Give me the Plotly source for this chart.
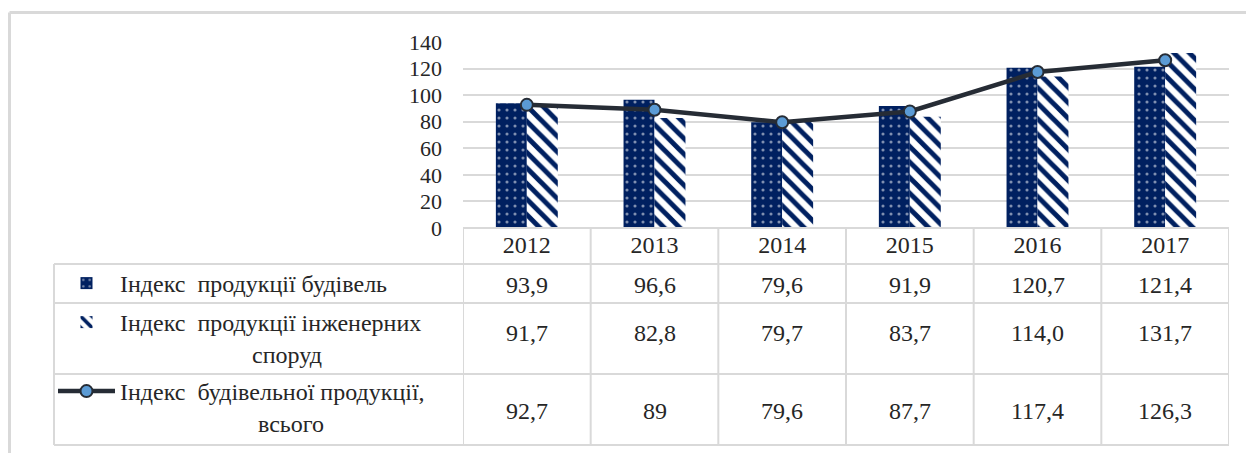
import plotly.graph_objects as go

# ---------------- data ----------------
years = ["2012", "2013", "2014", "2015", "2016", "2017"]
buildings = [93.9, 96.6, 79.6, 91.9, 120.7, 121.4]
engineering = [91.7, 82.8, 79.7, 83.7, 114.0, 131.7]
total = [92.7, 89, 79.6, 87.7, 117.4, 126.3]
NB = "\u00a0"
name_buildings = "Індекс" + NB + " продукції будівель"
name_engineering = "Індекс" + NB + " продукції інженерних<br>" + NB * 22 + "споруд"
name_total = "Індекс" + NB + " будівельної продукції,<br>" + NB * 23 + "всього"
y_ticks = [0, 20, 40, 60, 80, 100, 120, 140]

# ---------------- geometry helpers ----------------
W, H = 1246, 453
def fx(p):
    return p / W
def fy(p):
    return 1 - p / H

NAVY = "#002060"
GRID = "#D9D9D9"
LINE = "#262C35"
FONT = "Liberation Serif, Times New Roman, serif"
TXT = "#262626"

PLOT_L, PLOT_R, PLOT_T, PLOT_B = 463, 1229, 42, 228
ROWS = [228, 264, 303, 374, 445]   # table row boundaries (px)
TABLE_L = 54

fig = go.Figure()
fig.add_trace(go.Bar(
    x=years, y=buildings, name=name_buildings, legend="legend",
    marker=dict(color=NAVY, line=dict(width=0),
                pattern=dict(shape=".", fgcolor="white", bgcolor=NAVY,
                             size=8, solidity=0.12, fillmode="overlay")),
))
fig.add_trace(go.Bar(
    x=years, y=engineering, name=name_engineering, legend="legend2",
    marker=dict(color=NAVY, line=dict(width=0),
                pattern=dict(shape="\\", fgcolor=NAVY, bgcolor="white",
                             size=11, solidity=0.45, fillmode="replace")),
))
fig.add_trace(go.Scatter(
    x=years, y=total, name=name_total, legend="legend3", mode="lines+markers",
    line=dict(color=LINE, width=4.5),
    marker=dict(size=12, color="#5B9BD5", line=dict(color=LINE, width=2)),
))

# table values (formatted from the data)
def fmt1(v):
    return f"{v:.1f}".replace(".", ",")
def fmtg(v):
    return f"{v:g}".replace(".", ",")

rows_text = [
    [fmt1(v) for v in buildings],
    [fmt1(v) for v in engineering],
    [fmtg(v) for v in total],
]
row_text_y = [285, 333, 411]
annotations = []
for r, texts in enumerate(rows_text):
    for i, t in enumerate(texts):
        annotations.append(dict(x=i, xref="x", y=fy(row_text_y[r]), yref="paper", text=t,
                                showarrow=False, font=dict(family=FONT, size=24, color=TXT),
                                xanchor="center", yanchor="middle"))

shapes = []
lw = 2
# horizontal table lines
shapes.append(dict(type="line", xref="paper", yref="paper", x0=fx(PLOT_L), x1=fx(PLOT_R),
                   y0=fy(ROWS[0]), y1=fy(ROWS[0]), line=dict(color=GRID, width=lw)))
for yy in ROWS[1:]:
    shapes.append(dict(type="line", xref="paper", yref="paper", x0=fx(TABLE_L), x1=fx(PLOT_R),
                       y0=fy(yy), y1=fy(yy), line=dict(color=GRID, width=lw)))
# vertical lines
shapes.append(dict(type="line", xref="paper", yref="paper", x0=fx(TABLE_L), x1=fx(TABLE_L),
                   y0=fy(ROWS[1]), y1=fy(ROWS[-1]), line=dict(color=GRID, width=lw)))
for i in range(len(years) + 1):
    shapes.append(dict(type="line", xref="x", yref="paper", x0=i - 0.5, x1=i - 0.5,
                       y0=fy(ROWS[0]), y1=fy(ROWS[-1]), line=dict(color=GRID, width=lw)))
# outer chart frame (top & left visible)
shapes.append(dict(type="line", xref="paper", yref="paper", x0=fx(9.5), x1=1.0,
                   y0=fy(12.5), y1=fy(12.5), line=dict(color=GRID, width=3)))
shapes.append(dict(type="line", xref="paper", yref="paper", x0=fx(9.5), x1=fx(9.5),
                   y0=fy(12.5), y1=0, line=dict(color=GRID, width=3)))

legend_common = dict(xanchor="left", yanchor="top", bgcolor="rgba(0,0,0,0)",
                     borderwidth=0, itemwidth=57, valign="top",
                     font=dict(family=FONT, size=24, color=TXT),
                     itemclick=False, itemdoubleclick=False)

fig.update_layout(
    width=W, height=H,
    font=dict(family=FONT, size=24, color=TXT),
    margin=dict(l=0, r=0, t=0, b=0, pad=0, autoexpand=False),
    paper_bgcolor="white", plot_bgcolor="white",
    barmode="group", bargap=0.515, bargroupgap=0,
    showlegend=True,
    legend=dict(x=fx(53), y=fy(261), **legend_common),
    legend2=dict(x=fx(53), y=fy(300), **legend_common),
    legend3=dict(x=fx(53), y=fy(369), **legend_common),
    xaxis=dict(domain=[fx(PLOT_L), fx(PLOT_R)], type="category", range=[-0.5, 5.5],
               showgrid=False, zeroline=False, showline=False, ticks="", automargin=False,
               tickfont=dict(family=FONT, size=24, color=TXT), ticklabelstandoff=0),
    yaxis=dict(domain=[fy(PLOT_B), fy(PLOT_T)], range=[0, 140], tickvals=y_ticks,
               showgrid=True, gridcolor=GRID, gridwidth=2, zeroline=False, showline=False,
               automargin=False,
               ticks="", tickfont=dict(family=FONT, size=22, color=TXT), ticklabelstandoff=20),
    shapes=shapes,
    annotations=annotations,
    hovermode=False,
)

fig.write_html("out.html", config={"displayModeBar": False},
               post_script="document.body.style.margin='0px';")
